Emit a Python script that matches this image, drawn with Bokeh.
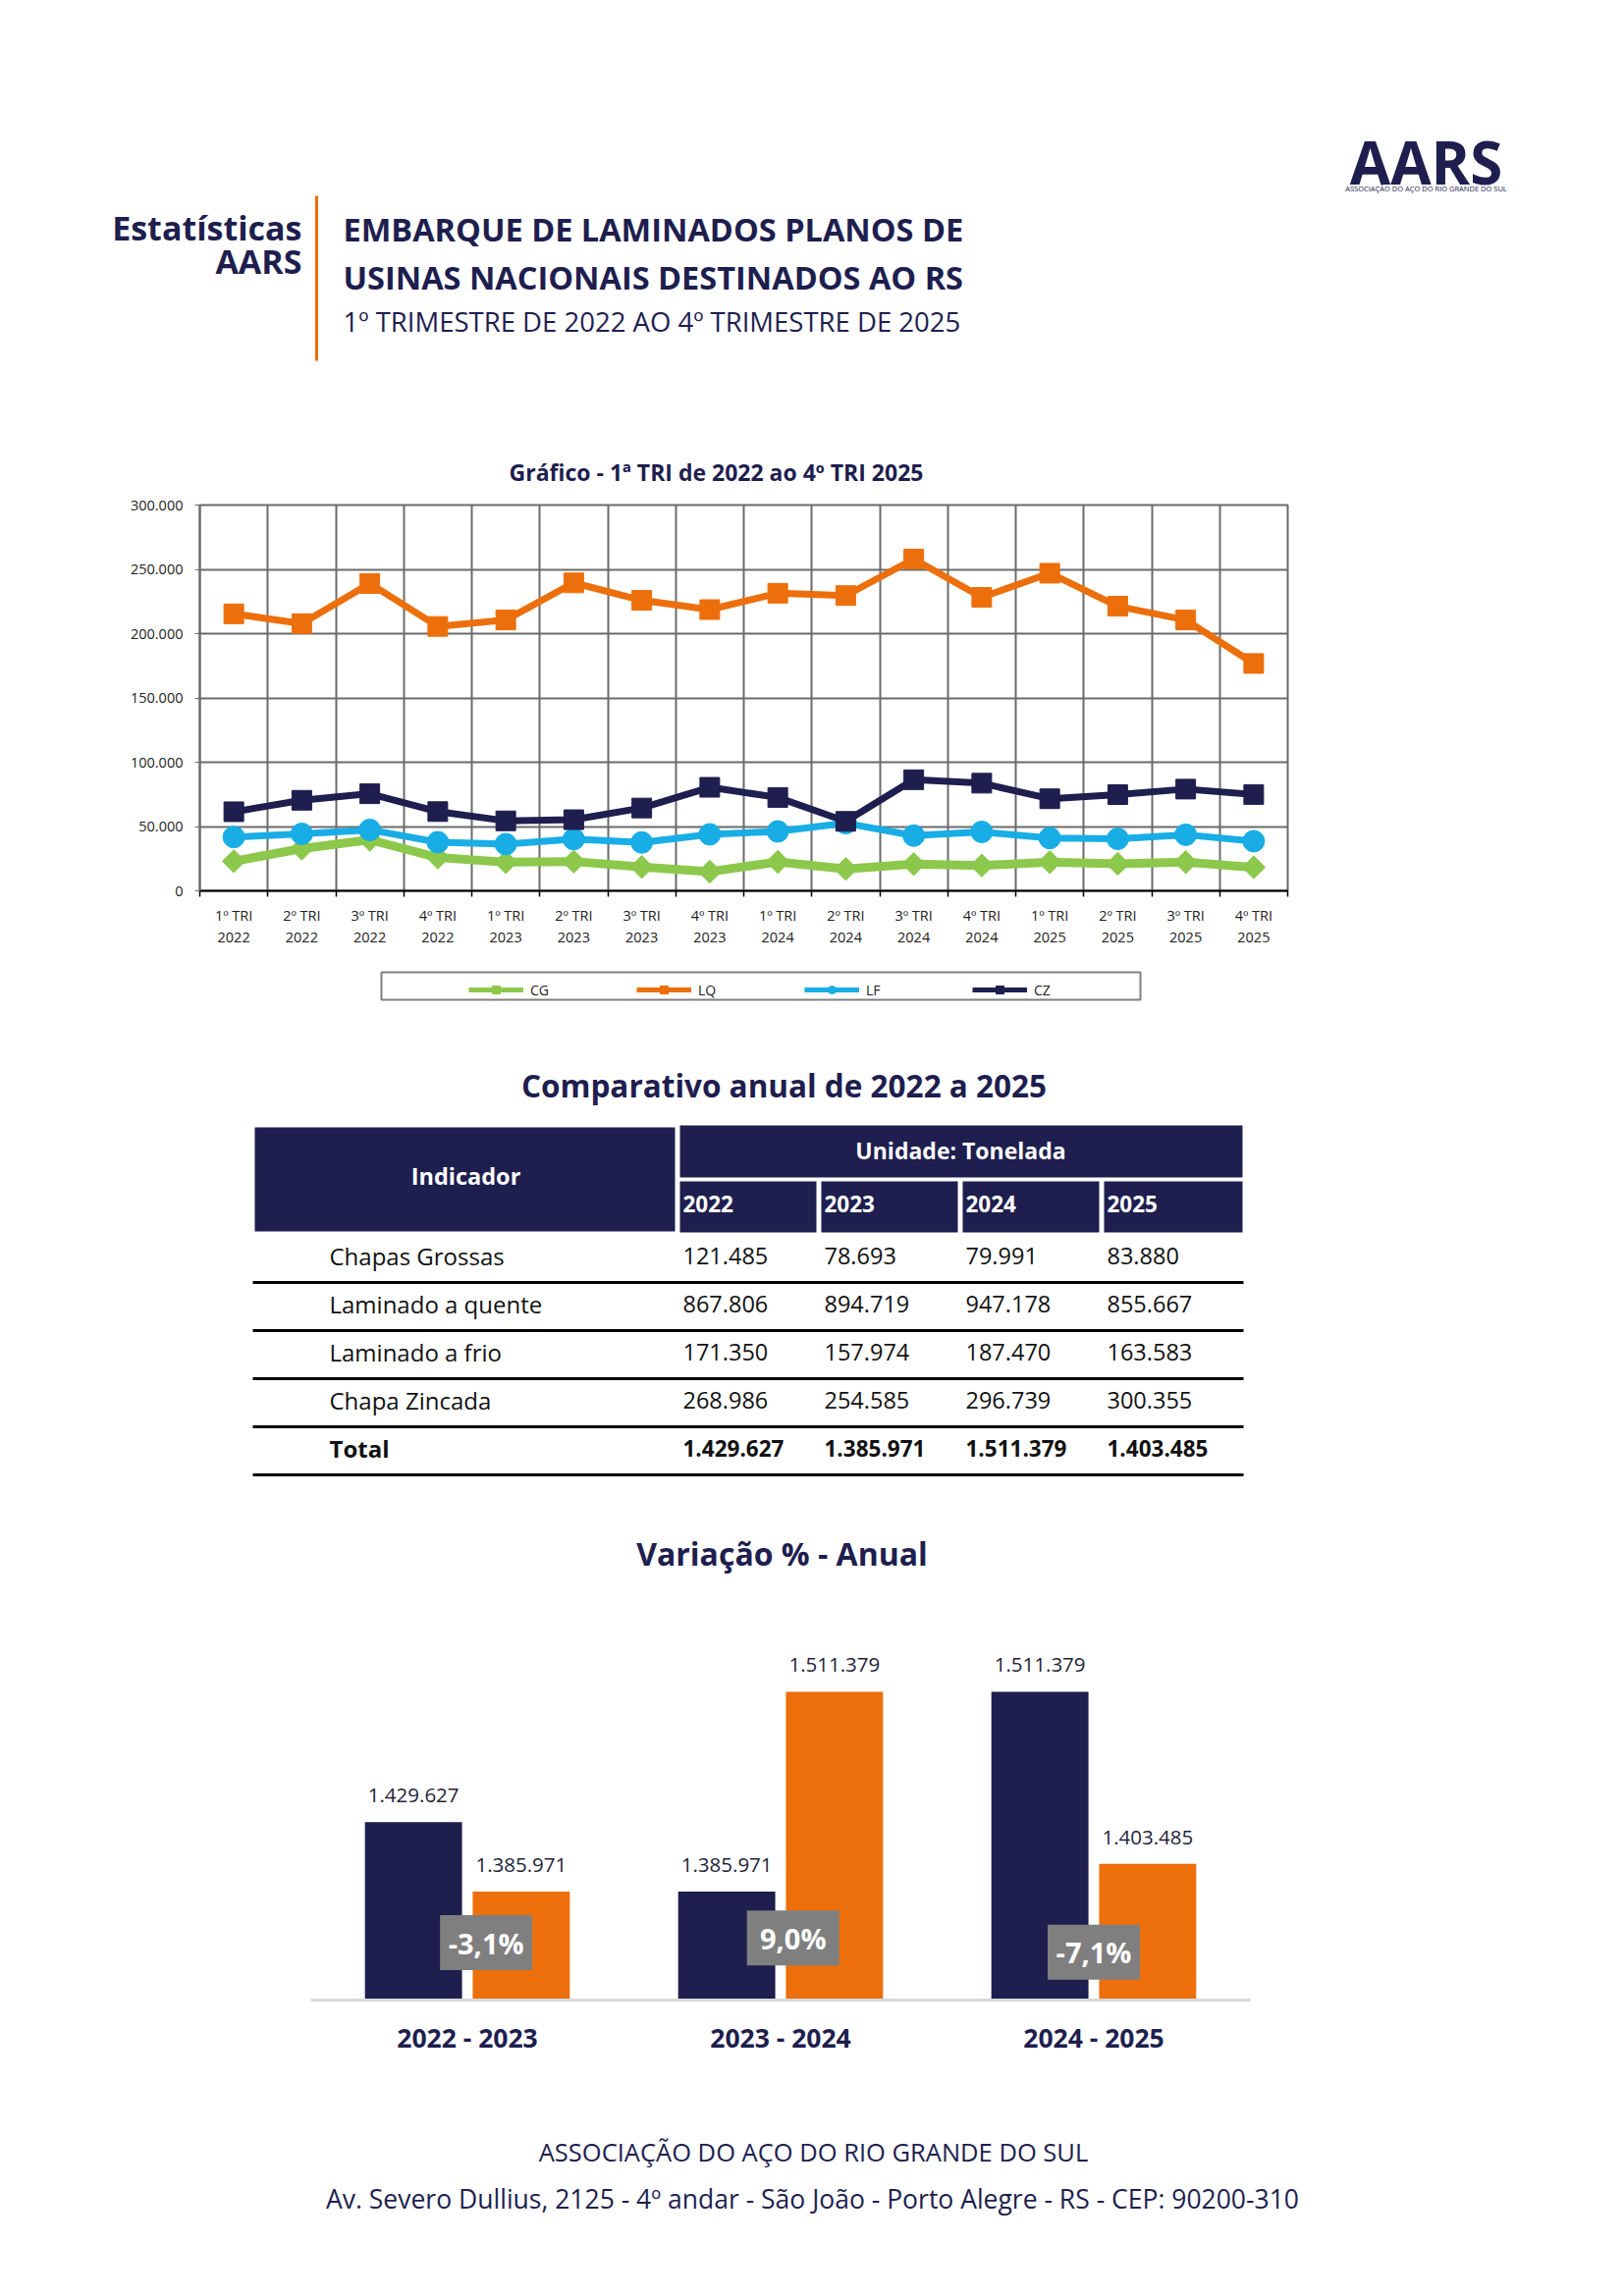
import numpy as np
from bokeh.plotting import figure
from bokeh.models import (Range1d, FixedTicker, Legend, LegendItem, FactorRange,
                          ColumnDataSource)
from bokeh.layouts import column
from bokeh.transform import dodge
from bokeh.core.properties import value
from bokeh.embed import file_html
from bokeh.resources import INLINE

# ---------------- DATA ----------------
quarters = ["1º TRI\n2022", "2º TRI\n2022", "3º TRI\n2022", "4º TRI\n2022",
            "1º TRI\n2023", "2º TRI\n2023", "3º TRI\n2023", "4º TRI\n2023",
            "1º TRI\n2024", "2º TRI\n2024", "3º TRI\n2024", "4º TRI\n2024",
            "1º TRI\n2025", "2º TRI\n2025", "3º TRI\n2025", "4º TRI\n2025"]
series_names = ["CG", "LQ", "LF", "CZ"]
cg = [23000, 32800, 39700, 25900, 22300, 22800, 18500, 14900,
      22500, 17000, 20800, 19700, 22300, 21000, 22300, 18300]
lq = [215400, 207800, 239000, 205600, 210600, 239500, 225900, 218700,
      231400, 229600, 258000, 228200, 247000, 221300, 210600, 176800]
lf = [41800, 44300, 47400, 37800, 36300, 40200, 37600, 43900,
      46200, 52600, 42900, 45800, 41000, 40400, 43600, 38600]
cz = [61500, 70400, 75500, 61600, 54400, 55300, 64400, 80500,
      72600, 54000, 86400, 83700, 71600, 74800, 79100, 74900]
y_ticks = [0, 50000, 100000, 150000, 200000, 250000, 300000]
y_tick_labels = ["0", "50.000", "100.000", "150.000", "200.000", "250.000", "300.000"]

indicators = ["Chapas Grossas", "Laminado a quente", "Laminado a frio", "Chapa Zincada"]
years = ["2022", "2023", "2024", "2025"]
t2022 = [121485, 867806, 171350, 268986]
t2023 = [78693, 894719, 157974, 254585]
t2024 = [79991, 947178, 187470, 296739]
t2025 = [83880, 855667, 163583, 300355]
totals = [1429627, 1385971, 1511379, 1403485]

periods = ["2022 - 2023", "2023 - 2024", "2024 - 2025"]

# ---------------- STYLE ----------------
FONT = "Open Sans"
NAVY = "#1e1e4f"
ORANGE = "#ec6f0c"
BLUE = "#19ade6"
GREEN = "#8cc84b"
GRAYBOX = "#7f7f7f"
GRID = "#6b6b6b"
W = 1638


def fmt(v):
    return f"{v:,}".replace(",", ".")


def blank(top, bottom):
    p = figure(width=W, height=bottom - top, x_range=Range1d(8, 8 + W),
               y_range=Range1d(bottom, top), x_axis_type=None, y_axis_type=None,
               output_backend="svg", toolbar_location=None, min_border=0)
    p.outline_line_color = None
    p.frame_align = False
    return p


def txt(p, x, y, s, size, color=NAVY, bold=False, align="left", baseline="middle"):
    p.text(x=x if isinstance(x, list) else [x], y=y if isinstance(y, list) else [y],
           text=s if isinstance(s, list) else [s],
           text_font=value(FONT), text_font_size=f"{size}px",
           text_font_style="bold" if bold else "normal", text_color=color,
           text_align=align, text_baseline=baseline)


# ---------------- HEADER ----------------
pA = blank(8, 505)
txt(pA, 315, 239, "Estatísticas", 34, bold=True, align="right")
txt(pA, 315, 273, "AARS", 34, bold=True, align="right")
pA.segment(x0=[330], y0=[207], x1=[330], y1=[375], line_color=ORANGE, line_width=3)
txt(pA, 357, 241, "EMBARQUE DE LAMINADOS PLANOS DE", 32.5, bold=True)
txt(pA, 357, 290, "USINAS NACIONAIS DESTINADOS AO RS", 32.5, bold=True)
txt(pA, 357, 335, "1º TRIMESTRE DE 2022 AO 4º TRIMESTRE DE 2025", 27.5)
txt(pA, 1460, 172, "AARS", 60, bold=True, align="center")
txt(pA, 1460, 199, "ASSOCIAÇÃO DO AÇO DO RIO GRANDE DO SUL", 7.5, align="center")
txt(pA, 740, 488, "Gráfico  - 1ª TRI de 2022 ao 4º TRI 2025", 23, bold=True, align="center")

# ---------------- LINE CHART ----------------
pB = figure(width=W, height=491, x_range=Range1d(0.5, 16.5), y_range=Range1d(0, 300000),
            output_backend="svg", toolbar_location=None,
            min_border_left=203, min_border_right=327, min_border_top=17, min_border_bottom=81)
pB.frame_align = False
xs = list(range(1, len(quarters) + 1))
xt = FixedTicker(ticks=xs, minor_ticks=[i - 0.5 for i in xs] + [xs[-1] + 0.5])
yt = FixedTicker(ticks=y_ticks, minor_ticks=[])
pB.xaxis.ticker = xt
pB.xgrid.ticker = xt
pB.yaxis.ticker = yt
pB.ygrid.ticker = yt
pB.xaxis.major_label_overrides = {x: q for x, q in zip(xs, quarters)}
pB.yaxis.major_label_overrides = {t: l for t, l in zip(y_ticks, y_tick_labels)}
pB.xgrid.grid_line_color = None
pB.xgrid.minor_grid_line_color = GRID
pB.xgrid.minor_grid_line_width = 2
pB.ygrid.grid_line_color = GRID
pB.ygrid.grid_line_width = 2
pB.outline_line_color = GRID
pB.outline_line_width = 2
pB.xaxis.axis_line_color = "black"
pB.xaxis.axis_line_width = 2
pB.xaxis.major_tick_line_color = None
pB.xaxis.minor_tick_line_color = "black"
pB.xaxis.minor_tick_line_width = 1.5
pB.xaxis.minor_tick_in = 0
pB.xaxis.minor_tick_out = 6
pB.xaxis.major_label_standoff = 9
pB.yaxis.axis_line_color = GRID
pB.yaxis.axis_line_width = 2
pB.yaxis.major_tick_line_color = GRID
pB.yaxis.major_tick_in = 0
pB.yaxis.major_tick_out = 5
pB.yaxis.minor_tick_line_color = None
pB.yaxis.major_label_standoff = 12
for ax in (pB.xaxis, pB.yaxis):
    ax.major_label_text_font = FONT
    ax.major_label_text_font_size = "14.5px"
    ax.major_label_text_color = "#222222"

series_vals = [cg, lq, lf, cz]
series_colors = [GREEN, ORANGE, BLUE, NAVY]
series_markers = ["square", "square", "circle", "square"]
series_angles = [np.pi / 4, 0, 0, 0]
series_sizes = [16.5, 20, 22, 20]
series_lw = [9, 7, 7, 7]
for vals, col, mk, ang, sz, lw in zip(series_vals, series_colors, series_markers,
                                      series_angles, series_sizes, series_lw):
    pB.line(xs, vals, line_color=col, line_width=lw)
    pB.scatter(xs, vals, marker=mk, angle=ang, size=sz, fill_color=col, line_color=col)

# ---------------- LEGEND ----------------
pC = figure(width=W, height=64, x_range=Range1d(0, 1), y_range=Range1d(0, 1),
            x_axis_type=None, y_axis_type=None, output_backend="svg", toolbar_location=None,
            min_border_left=388, min_border_right=477, min_border_top=2, min_border_bottom=34)
pC.frame_align = False
pC.outline_line_color = "#808080"
pC.outline_line_width = 2
items = []
for name, col, mk, ang in zip(series_names, series_colors, series_markers, series_angles):
    rl = pC.line([-5, -4], [-5, -4], line_color=col, line_width=5)
    rs = pC.scatter([-5], [-5], marker=mk, angle=ang, size=12 if ang == 0 else 9.5,
                    fill_color=col, line_color=col)
    items.append(LegendItem(label=name, renderers=[rl, rs]))
leg = Legend(items=items, orientation="horizontal", location=(89, 0), padding=4, spacing=0,
             margin=0, glyph_width=56, glyph_height=20, label_standoff=7, label_width=108,
             label_height=20, border_line_color=None, background_fill_alpha=0,
             label_text_font=FONT, label_text_font_size="14px", label_text_color="#222222")
pC.add_layout(leg)

# ---------------- TABLE ----------------
pD = blank(1060, 1625)
txt(pD, 806, 1113, "Comparativo anual de 2022 a 2025", 31.5, bold=True, align="center")
col_left = [700, 844, 988, 1132]
col_right = [839, 983, 1127, 1273]
pD.quad(left=[267, 700] + col_left, right=[695, 1273] + col_right,
        top=[1156, 1154] + [1211] * 4, bottom=[1262, 1207] + [1263] * 4,
        fill_color=NAVY, line_color=None)
txt(pD, 482, 1205, "Indicador", 23.5, color="white", bold=True, align="center")
txt(pD, 986, 1179, "Unidade: Tonelada", 23, color="white", bold=True, align="center")
txt(pD, [c + 3 for c in col_left], [1234] * 4, years, 22.5, color="white", bold=True)

table_cols = [t2022, t2023, t2024, t2025]
row_y = [1287 + 49 * i for i in range(len(indicators) + 1)]
txt(pD, [343] * len(indicators), row_y[:-1], indicators, 24, color="#111111")
txt(pD, 343, row_y[-1], "Total", 24, color="#111111", bold=True)
for cl, colvals, tot in zip(col_left, table_cols, totals):
    txt(pD, [cl + 3] * len(colvals), row_y[:-1], [fmt(v) for v in colvals], 23.5, color="#111111")
    txt(pD, cl + 3, row_y[-1], fmt(tot), 22.5, color="#111111", bold=True)
line_y = [y + 27 for y in row_y]
pD.segment(x0=[265] * len(line_y), y0=line_y, x1=[1274] * len(line_y), y1=line_y,
           line_color="black", line_width=3)
txt(pD, 804, 1590, "Variação % - Anual", 32, bold=True, align="center")

# ---------------- BAR CHART ----------------
start_vals = totals[:-1]
end_vals = totals[1:]
pct = [f"{(e / s - 1) * 100:.1f}%".replace(".", ",") for s, e in zip(start_vals, end_vals)]
# label-box placement (style): offset from group centre and vertical anchor
pct_dx = [0.06, 0.04, 0.0]
pct_y = [1354000, 1357000, 1348000]
src = ColumnDataSource(dict(period=periods, start=start_vals, end=end_vals,
                            start_lbl=[fmt(v) for v in start_vals],
                            end_lbl=[fmt(v) for v in end_vals], pct=pct,
                            pct_x=[(p_, d) for p_, d in zip(periods, pct_dx)],
                            pct_y=pct_y))
pE = figure(width=W, height=505, x_range=FactorRange(*periods),
            y_range=Range1d(1318000, 1555069), y_axis_location=None,
            output_backend="svg", toolbar_location=None,
            min_border_left=316, min_border_right=365, min_border_top=35, min_border_bottom=85)
pE.frame_align = False
pE.outline_line_color = None
pE.grid.grid_line_color = None
pE.xaxis.axis_line_color = "#d9d9d9"
pE.xaxis.axis_line_width = 3
pE.xaxis.major_tick_line_color = None
pE.xaxis.major_label_standoff = 14
pE.xaxis.major_label_text_font = FONT
pE.xaxis.major_label_text_font_size = "26.5px"
pE.xaxis.major_label_text_font_style = "bold"
pE.xaxis.major_label_text_color = NAVY
DX = 0.172
BW = 0.31
pE.vbar(x=dodge("period", -DX, range=pE.x_range), top="start", bottom=1318000, width=BW,
        source=src, fill_color=NAVY, line_color=None)
pE.vbar(x=dodge("period", DX, range=pE.x_range), top="end", bottom=1318000, width=BW,
        source=src, fill_color=ORANGE, line_color=None)
for off, col in ((-DX, "start_lbl"), (DX, "end_lbl")):
    pE.text(x=dodge("period", off, range=pE.x_range), y=col.replace("_lbl", ""), text=col,
            source=src, y_offset=-27, text_align="center", text_baseline="middle",
            text_font=value(FONT), text_font_size="20.5px", text_color="#1f1f3a")
for i in range(len(periods)):
    pE.rect(x=dodge("period", pct_dx[i], range=pE.x_range), y="pct_y", width=94, height=56,
            width_units="screen", height_units="screen",
            source=ColumnDataSource(dict(period=[periods[i]], pct_y=[pct_y[i]], pct=[pct[i]])),
            fill_color=GRAYBOX, line_color=None)
    pE.text(x=dodge("period", pct_dx[i], range=pE.x_range), y="pct_y", text="pct",
            source=ColumnDataSource(dict(period=[periods[i]], pct_y=[pct_y[i]], pct=[pct[i]])),
            text_align="center", text_baseline="middle", text_font=value(FONT),
            text_font_size="29px", text_font_style="bold", text_color="white")

# ---------------- FOOTER ----------------
pF = blank(2130, 2323)
txt(pF, 836, 2199, "ASSOCIAÇÃO DO AÇO DO RIO GRANDE DO SUL", 25.5, align="center")
txt(pF, 835, 2247, "Av. Severo Dullius, 2125 - 4º andar - São João - Porto Alegre - RS - CEP: 90200-310",
    26.5, align="center")

layout = column(pA, pB, pC, pD, pE, pF, spacing=0)
open("out.html", "w").write(file_html(layout, INLINE))
